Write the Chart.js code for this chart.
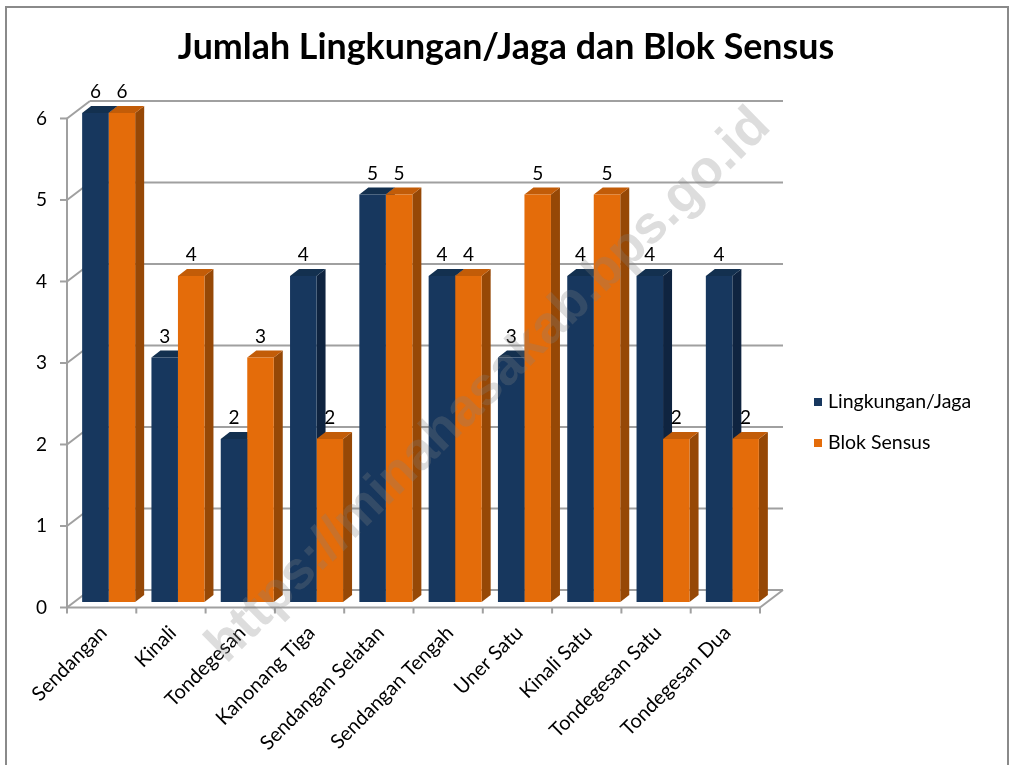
<!DOCTYPE html>
<html><head><meta charset="utf-8">
<script src="https://cdn.jsdelivr.net/npm/chart.js@4.4.1/dist/chart.umd.min.js"></script>
<style>
html,body{margin:0;padding:0;background:#fff;overflow:hidden;}
#wrap{position:relative;width:1012px;height:765px;}
#frame{position:absolute;left:5px;top:6px;width:1004px;height:800px;border:2px solid #8a8a8a;box-sizing:border-box;}
canvas{position:absolute;left:0;top:0;}
</style></head><body>
<div id="wrap"><div id="frame"></div><canvas id="c" width="1012" height="765"></canvas></div>
<script>
// ---- data ----
const categories = ['Sendangan','Kinali','Tondegesan','Kanonang Tiga','Sendangan Selatan','Sendangan Tengah','Uner Satu','Kinali Satu','Tondegesan Satu','Tondegesan Dua'];
const lingkunganJaga = [6,3,2,4,5,4,3,4,4,4];
const blokSensus     = [6,4,3,2,5,4,5,5,2,2];
const yTickValues = [0,1,2,3,4,5,6];
const seriesNames = ['Lingkungan/Jaga','Blok Sensus'];
const titleText = 'Jumlah Lingkungan/Jaga dan Blok Sensus';
const watermarkText = 'https://minahasakab.bps.go.id';

// ---- styles ----
const FONT = 'Lato, "Open Sans", sans-serif';
const FRONT_COL = ['#17375E', '#E46C0A'];
const TOP_COL   = ['#13304f', '#c25c08'];
const SIDE_COL  = ['#0f2440', '#964806'];
const FRONT_OFF = {dx:-7, dy:5.5};   // front plane relative to bar plane
const BACK_OFF  = {dx:16, dy:-12};   // back wall relative to bar plane
const BAR_DEPTH = {dx:9, dy:-7};

function line(ctx,x1,y1,x2,y2){ctx.beginPath();ctx.moveTo(x1,y1);ctx.lineTo(x2,y2);ctx.stroke();}
function poly(ctx,pts,fill){ctx.beginPath();ctx.moveTo(pts[0][0],pts[0][1]);for(let i=1;i<pts.length;i++)ctx.lineTo(pts[i][0],pts[i][1]);ctx.closePath();ctx.fillStyle=fill;ctx.fill();}

const threeD = {
  id:'threeD',
  beforeDatasetsDraw(chart){
    const {ctx, chartArea:ca, scales:{x, y}} = chart;
    ctx.save();
    ctx.strokeStyle = '#a0a0a0'; ctx.lineWidth = 2;
    const vMin = yTickValues[0], vMax = yTickValues[yTickValues.length-1];
    yTickValues.forEach(v => {
      const py = y.getPixelForValue(v);
      line(ctx, ca.left+BACK_OFF.dx, py+BACK_OFF.dy, ca.right+BACK_OFF.dx, py+BACK_OFF.dy);
      line(ctx, ca.left+FRONT_OFF.dx, py+FRONT_OFF.dy, ca.left+BACK_OFF.dx, py+BACK_OFF.dy);
      line(ctx, ca.left+FRONT_OFF.dx-7, py+FRONT_OFF.dy, ca.left+FRONT_OFF.dx, py+FRONT_OFF.dy);
    });
    const y0 = y.getPixelForValue(vMin), y6 = y.getPixelForValue(vMax);
    line(ctx, ca.left+FRONT_OFF.dx, y0+FRONT_OFF.dy, ca.left+FRONT_OFF.dx, y6+FRONT_OFF.dy);
    line(ctx, ca.left+FRONT_OFF.dx, y0+FRONT_OFF.dy, ca.right+FRONT_OFF.dx, y0+FRONT_OFF.dy);
    line(ctx, ca.right+FRONT_OFF.dx, y0+FRONT_OFF.dy, ca.right+BACK_OFF.dx, y0+BACK_OFF.dy);
    const half = (x.getPixelForValue(1) - x.getPixelForValue(0))/2;
    for (let i=0;i<=categories.length;i++){
      const px = (i<categories.length ? x.getPixelForValue(i)-half : x.getPixelForValue(i-1)+half) + FRONT_OFF.dx;
      line(ctx, px, y0+FRONT_OFF.dy, px, y0+FRONT_OFF.dy+6);
    }
    chart.data.datasets.forEach((ds, di) => {
      const meta = chart.getDatasetMeta(di);
      meta.data.forEach(el => {
        const p = el.getProps(['x','y','base','width'], true);
        const l = p.x - p.width/2, r = p.x + p.width/2;
        poly(ctx, [[r,p.y],[r+BAR_DEPTH.dx,p.y+BAR_DEPTH.dy],[r+BAR_DEPTH.dx,p.base+BAR_DEPTH.dy],[r,p.base]], SIDE_COL[di]);
        poly(ctx, [[l,p.y],[r,p.y],[r+BAR_DEPTH.dx,p.y+BAR_DEPTH.dy],[l+BAR_DEPTH.dx,p.y+BAR_DEPTH.dy]], TOP_COL[di]);
      });
    });
    ctx.restore();
  },
  afterDatasetsDraw(chart){
    const {ctx} = chart;
    ctx.save();
    ctx.font = '19px ' + FONT;
    ctx.fillStyle = '#000';
    ctx.textAlign = 'center'; ctx.textBaseline = 'middle';
    chart.data.datasets.forEach((ds, di) => {
      chart.getDatasetMeta(di).data.forEach((el, i) => {
        const p = el.getProps(['x','y'], true);
        ctx.fillText(String(ds.data[i]), p.x, p.y - 21);
      });
    });
    // legend
    const ly = [402, 443];
    ctx.font = '19.5px ' + FONT;
    chart.data.datasets.forEach((ds, di) => {
      ctx.fillStyle = FRONT_COL[di];
      ctx.fillRect(814, ly[di]-4, 8, 8);
      ctx.fillStyle = '#000';
      ctx.textAlign = 'left';
      ctx.fillText(ds.label, 828, ly[di]);
    });
    ctx.restore();
  },
  afterDraw(chart){
    const {ctx} = chart;
    ctx.save();
    ctx.translate(489, 386);
    ctx.rotate(-Math.atan2(550, 560));
    ctx.font = 'bold 46px "Liberation Sans", Arial, sans-serif';
    const w = ctx.measureText(watermarkText).width;
    const s = 765 / w;
    ctx.font = 'bold ' + (46*s).toFixed(1) + 'px "Liberation Sans", Arial, sans-serif';
    ctx.fillStyle = 'rgba(128,128,128,0.27)';
    ctx.textAlign = 'center'; ctx.textBaseline = 'middle';
    ctx.fillText(watermarkText, 0, 0);
    ctx.restore();
  }
};

new Chart(document.getElementById('c'), {
  type: 'bar',
  data: {
    labels: categories,
    datasets: [
      {label: seriesNames[0], data: lingkunganJaga, backgroundColor: FRONT_COL[0], borderWidth: 0, yAxisID: 'y'},
      {label: seriesNames[1], data: blokSensus, backgroundColor: FRONT_COL[1], borderWidth: 0, yAxisID: 'y'}
    ]
  },
  options: {
    responsive: false, animation: false, devicePixelRatio: 1,
    layout: {padding: 0},
    datasets: {bar: {barPercentage: 1, categoryPercentage: 0.765}},
    plugins: {
      legend: {display: false},
      tooltip: {enabled: false},
      title: {display: true, text: titleText, color: '#000',
        font: {family: FONT, size: 35.8, weight: 'bold', lineHeight: 1.2},
        padding: {top: 25.5, bottom: 44.5}}
    },
    scales: {
      x: {
        grid: {display: false, drawTicks: false}, border: {display: false},
        ticks: {autoSkip: false, minRotation: 45, maxRotation: 45, padding: 19, labelOffset: -5,
          color: '#000', font: {family: FONT, size: 20}},
        afterFit(s){ s.height = 163; }
      },
      y: {
        min: 0, max: 6,
        grid: {display: false, drawTicks: false}, border: {display: false},
        ticks: {stepSize: 1, padding: 27, labelOffset: 5.5, color: '#000', font: {family: FONT, size: 19}},
        afterBuildTicks(s){ s.ticks = yTickValues.map(v => ({value: v})); },
        afterFit(s){ s.width = 74; }
      },
      legendSpace: {
        position: 'right', display: true, min: 0, max: 1,
        grid: {display: false, drawTicks: false}, border: {display: false},
        ticks: {display: false},
        afterFit(s){ s.width = 245; }
      }
    }
  },
  plugins: [threeD]
});
</script>
</body></html>
